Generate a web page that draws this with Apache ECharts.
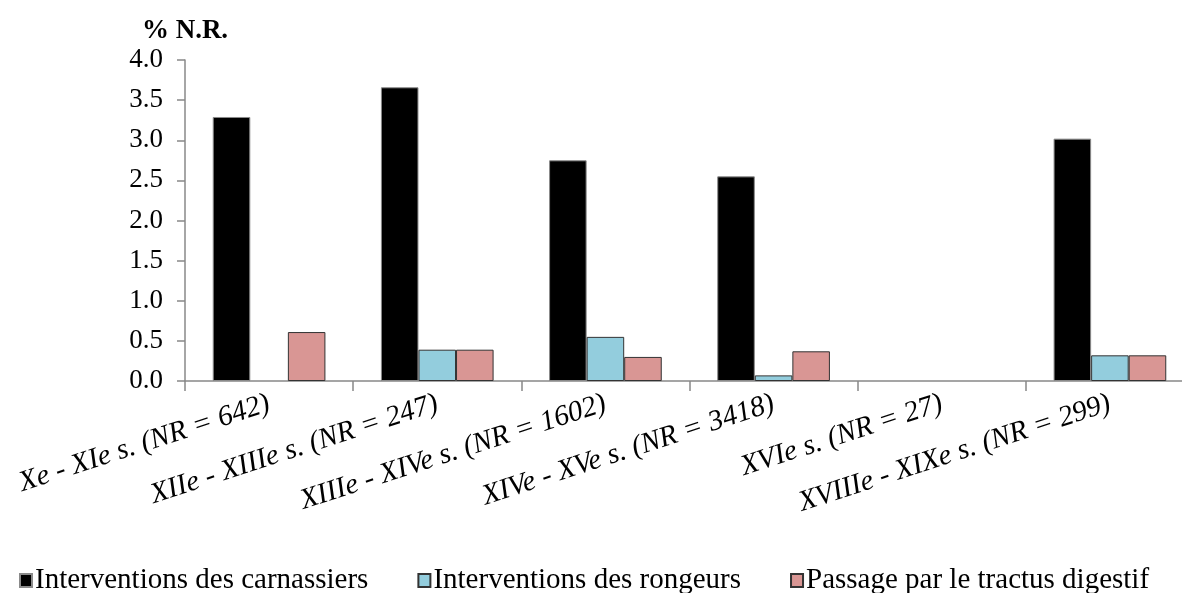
<!DOCTYPE html>
<html>
<head>
<meta charset="utf-8">
<script src="https://cdn.jsdelivr.net/npm/echarts@6/dist/echarts.min.js"></script>
<style>
html,body{margin:0;padding:0;background:#fff;overflow:hidden;width:1182px;height:593px;}
#chart{width:1200px;height:593px;}
</style>
</head>
<body>
<div id="chart"></div>
<script>
const categories = [
  'Xe - XIe s. (NR = 642)',
  'XIIe - XIIIe s. (NR = 247)',
  'XIIIe - XIVe s. (NR = 1602)',
  'XIVe - XVe s. (NR = 3418)',
  'XVIe s. (NR = 27)',
  'XVIIIe - XIXe s. (NR = 299)'
];
const seriesNames = ['Interventions des carnassiers', 'Interventions des rongeurs', 'Passage par le tractus digestif'];
const carnassiers = [3.29, 3.66, 2.75, 2.55, 0, 3.02];
const rongeurs = [0, 0.39, 0.55, 0.07, 0, 0.32];
const tractus = [0.61, 0.39, 0.30, 0.37, 0, 0.32];
const yTicks = [0, 0.5, 1.0, 1.5, 2.0, 2.5, 3.0, 3.5, 4.0];

const serif = '"Liberation Serif", "Times New Roman", serif';
const noZero = arr => arr.map(v => (v === 0 ? null : v));

const chart = echarts.init(document.getElementById('chart'), null, {renderer: 'canvas'});
chart.setOption({
  animation: false,
  backgroundColor: '#ffffff',
  grid: {left: 185, top: 60, bottom: 212, right: 6, containLabel: false},
  legend: {
    left: 14, top: 561,
    icon: 'rect', itemWidth: 12, itemHeight: 13, itemGap: 49,
    textStyle: {fontFamily: serif, fontSize: 29, color: '#000', padding: [0,0,0,-2]},
    data: seriesNames
  },
  xAxis: {
    type: 'category',
    data: categories,
    boundaryGap: true,
    axisLine: {lineStyle: {color: '#888888', width: 1.5}},
    axisTick: {show: true, length: 10, lineStyle: {color: '#888888', width: 1.5}},
    axisLabel: {
      interval: 0, rotate: 18, margin: 22,
      fontFamily: serif, fontStyle: 'italic', fontSize: 29, color: '#000'
    },
    splitLine: {show: false}
  },
  yAxis: {
    type: 'value',
    min: 0, max: 4, interval: 0.5,
    name: '% N.R.',
    nameLocation: 'end',
    nameGap: 15,
    nameTextStyle: {fontFamily: serif, fontSize: 27, fontWeight: 'bold', color: '#000', align: 'center'},
    axisLine: {show: true, lineStyle: {color: '#888888', width: 1.5}},
    axisTick: {show: true, length: 8, lineStyle: {color: '#888888', width: 1.5}},
    axisLabel: {
      margin: 22, fontFamily: serif, fontSize: 27, color: '#000',
      formatter: v => (yTicks.includes(v) ? v.toFixed(1) : '')
    },
    splitLine: {show: false}
  },
  series: [
    {
      name: seriesNames[0], type: 'bar', data: noZero(carnassiers),
      barGap: '0%', barCategoryGap: '33%',
      itemStyle: {color: '#000000', borderColor: '#8a8a8a', borderWidth: 1}
    },
    {
      name: seriesNames[1], type: 'bar', data: noZero(rongeurs),
      barGap: '0%', barCategoryGap: '33%',
      itemStyle: {color: '#93CDDD', borderColor: '#333333', borderWidth: 1}
    },
    {
      name: seriesNames[2], type: 'bar', data: noZero(tractus),
      barGap: '0%', barCategoryGap: '33%',
      itemStyle: {color: '#D99694', borderColor: '#333333', borderWidth: 1}
    }
  ]
});
</script>
</body>
</html>
